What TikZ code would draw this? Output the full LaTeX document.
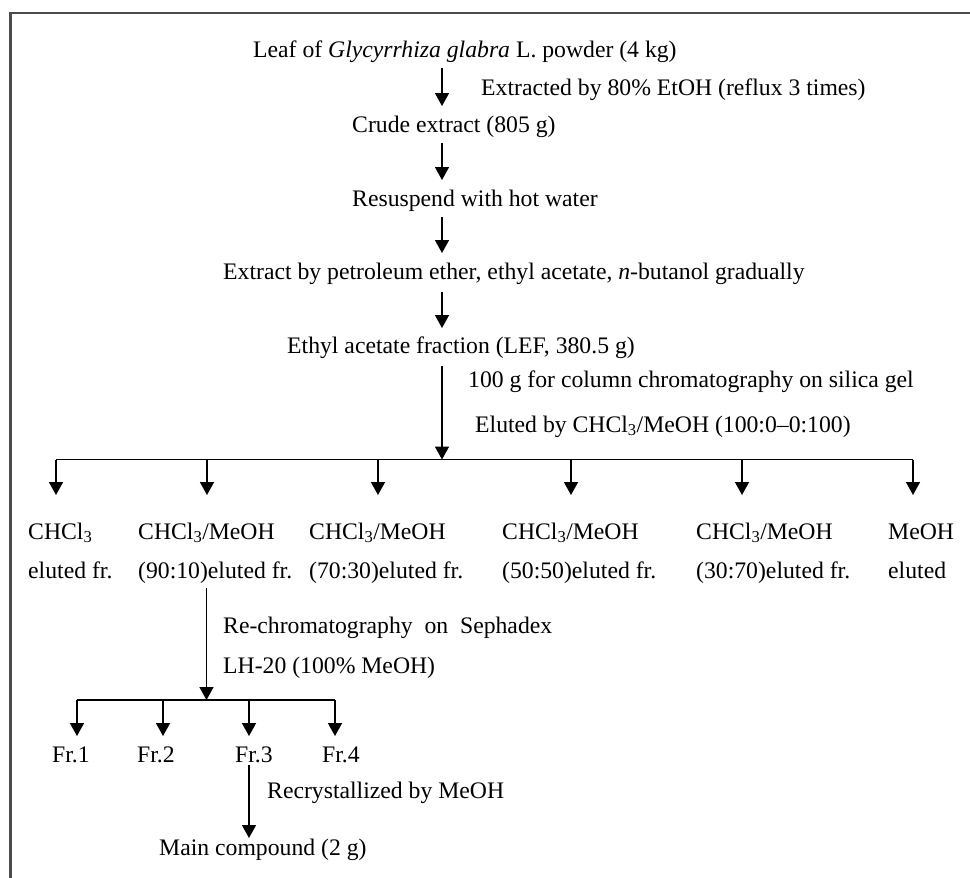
\documentclass[tikz,border=0pt]{standalone}
\usepackage{fontspec}
\setmainfont{Liberation Serif}
\usetikzlibrary{arrows.meta,calc}
\begin{document}
\begin{tikzpicture}[x=1pt,y=-1pt,
  txt/.style={anchor=base west,inner sep=0pt,font=\fontsize{23.7}{28}\selectfont},
  arr/.style={line width=1.5pt,-{Triangle[width=14pt,length=13pt]}},
  bar/.style={line width=1.5pt},
  frame/.style={line width=2.2pt,draw=black!70}]
\useasboundingbox (0,0) rectangle (970,878);
\draw[frame] (10.5,878) -- (10.5,13) -- (970,13);
\coordinate (spine) at (442,0);
% main chain
\node[txt] (leaf) at (253,57) {Leaf of \textit{Glycyrrhiza glabra} L. powder (4 kg)};
\node[txt] (crude) at (352,132) {Crude extract (805 g)};
\node[txt] (resus) at (352,206) {Resuspend with hot water};
\node[txt] (extr) at (223,279) {Extract by petroleum ether, ethyl acetate, \textit{n}-butanol gradually};
\node[txt] (ethyl) at (287,353) {Ethyl acetate fraction (LEF, 380.5 g)};
% side labels
\node[txt] (l1) at (481,95) {Extracted by 80\% EtOH (reflux 3 times)};
\node[txt] (l2) at (468,387) {100 g for column chromatography on silica gel};
\node[txt] (l3) at (475,432) {Eluted by CHCl\textsubscript{3}/MeOH (100:0--0:100)};
\draw[arr] ($(leaf.base -| spine)+(0,11)$) -- ($(crude.base -| spine)+(0,-26)$);
\draw[arr] ($(crude.base -| spine)+(0,11)$) -- ($(resus.base -| spine)+(0,-26)$);
\draw[arr] ($(resus.base -| spine)+(0,11)$) -- ($(extr.base -| spine)+(0,-26)$);
\draw[arr] ($(extr.base -| spine)+(0,13)$) -- ($(ethyl.base -| spine)+(0,-25)$);
% branch bar
\coordinate (br) at (442,459.5);
\coordinate (b1) at (56,459.5);
\coordinate (b2) at (207,459.5);
\coordinate (b3) at (378,459.5);
\coordinate (b4) at (571,459.5);
\coordinate (b5) at (742,459.5);
\coordinate (b6) at (913,459.5);
\draw[arr] ($(ethyl.base -| spine)+(0,13)$) -- (br);
\draw[bar] (b1) -- (b6);
% fractions
\node[txt] (f1a) at (28,539) {CHCl\textsubscript{3}};
\node[txt] (f1b) at (28,578) {eluted fr.};
\node[txt] (f2a) at (138,539) {CHCl\textsubscript{3}/MeOH};
\node[txt] (f2b) at (138,578) {(90:10)eluted fr.};
\node[txt] (f3a) at (309,539) {CHCl\textsubscript{3}/MeOH};
\node[txt] (f3b) at (309,578) {(70:30)eluted fr.};
\node[txt] (f4a) at (502,539) {CHCl\textsubscript{3}/MeOH};
\node[txt] (f4b) at (502,578) {(50:50)eluted fr.};
\node[txt] (f5a) at (696,539) {CHCl\textsubscript{3}/MeOH};
\node[txt] (f5b) at (696,578) {(30:70)eluted fr.};
\node[txt] (f6a) at (888,539) {MeOH};
\node[txt] (f6b) at (888,578) {eluted};
\foreach \i in {1,...,6}{
  \draw[arr] (b\i) -- ($(f\i a.base -| b\i)+(0,-44)$);
}
% Sephadex
\node[txt] (s1) at (223,633) {\makebox[329pt][s]{Re-chromatography on Sephadex}};
\node[txt] (s2) at (223,673) {LH-20 (100\% MeOH)};
\coordinate (cr) at (206.5,700);
\coordinate (c1) at (77,700);
\coordinate (c2) at (163,700);
\coordinate (c3) at (249,700);
\coordinate (c4) at (335,700);
\draw[arr] ($(f2b.base -| cr)+(0,10)$) -- (cr);
\draw[bar] (c1) -- (c4);
\node[txt] (fr1) at (52,762) {Fr.1};
\node[txt] (fr2) at (137,762) {Fr.2};
\node[txt] (fr3) at (235,762) {Fr.3};
\node[txt] (fr4) at (322,762) {Fr.4};
\foreach \i in {1,...,4}{
  \draw[arr] (c\i) -- ($(fr\i.base -| c\i)+(0,-26)$);
}
\node[txt] (rec) at (267,798) {Recrystallized by MeOH};
\node[txt] (main) at (159,855) {Main compound (2 g)};
\draw[arr] ($(fr3.base -| c3)+(0,3)$) -- ($(main.base -| c3)+(0,-17)$);
\end{tikzpicture}
\end{document}
